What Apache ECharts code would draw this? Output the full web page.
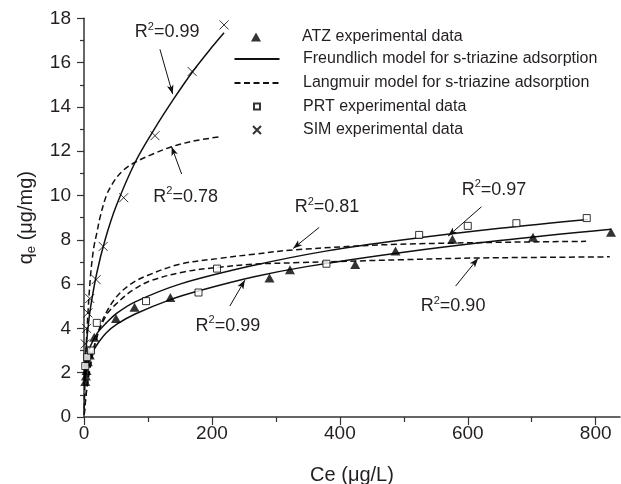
<!DOCTYPE html>
<html>
<head>
<meta charset="utf-8">
<script src="https://cdn.jsdelivr.net/npm/echarts@6/dist/echarts.min.js"></script>
<style>
  html, body { margin: 0; background: #fff; }
  #chart { width: 621px; height: 484px; }
</style>
</head>
<body>
<div id="chart"></div>
<script>
// Experimental points [Ce, qe]
const atzPoints = [[2, 1.6], [3, 1.85], [4, 2.1], [6, 2.5], [9, 2.8], [16, 3.6], [50, 4.45], [79, 4.95], [135, 5.4],
  [290, 6.27], [322, 6.65], [424, 6.88], [487, 7.5], [576, 8.03], [702, 8.12], [824, 8.34]];
const prtPoints = [[2, 2.3], [5, 2.7], [11, 3.0], [20, 4.25], [97, 5.23], [179, 5.62], [208, 6.7], [379, 6.92],
  [524, 8.22], [600, 8.63], [676, 8.75], [786, 8.98]];
const simPoints = [[2, 3.3], [4, 4.0], [6, 4.7], [9, 5.35], [19, 6.2], [30, 7.7], [62, 9.9], [111, 12.7],
  [169, 15.6], [219, 17.7]];

// Model curves
const atzFreundlich = [[1, 1.5], [3, 2.0], [6, 2.4], [10, 2.75], [20, 3.25], [35, 3.8], [52, 4.2], [80, 4.65],
  [135, 5.3], [180, 5.7], [266, 6.33], [350, 6.8], [494, 7.42], [650, 7.97], [824, 8.48]];
const prtFreundlich = [[1, 1.8], [3, 2.4], [6, 2.8], [10, 3.2], [21, 3.8], [35, 4.25], [52, 4.7], [80, 5.2],
  [150, 6.0], [266, 6.85], [380, 7.5], [494, 7.98], [650, 8.52], [788, 8.92]];
const simFreundlich = [[1, 1.9], [3, 3.0], [6, 3.95], [10, 4.9], [20, 6.5], [33, 8.0], [50, 9.5], [80, 11.5],
  [110, 13.0], [140, 14.35], [170, 15.6], [200, 16.7], [219, 17.35]];
const atzLangmuir = [[0.3, 0.1], [1, 0.35], [3, 1.0], [5, 1.45], [10, 2.4], [20, 3.6], [35, 4.6], [52, 5.15],
  [75, 5.7], [104, 6.15], [156, 6.55], [208, 6.75], [266, 6.9], [337, 6.97], [400, 7.02], [494, 7.1],
  [620, 7.18], [822, 7.23]];
const prtLangmuir = [[0.3, 0.1], [1, 0.3], [3, 0.9], [5, 1.4], [10, 2.3], [20, 3.6], [31, 4.5], [50, 5.4],
  [73, 6.0], [100, 6.4], [150, 6.9], [208, 7.15], [266, 7.35], [330, 7.55], [494, 7.8], [785, 7.93]];
const simLangmuir = [[0.3, 0.35], [1, 1.1], [3, 2.8], [5, 4.1], [10, 6.3], [15, 7.6], [20, 8.3], [25, 9.0],
  [35, 10.0], [46, 10.6], [60, 11.1], [80, 11.5], [110, 11.9], [137, 12.2], [170, 12.45], [212, 12.65]];

// Axis ticks
const xMajorTicks = [0, 200, 400, 600, 800];
const xMinorTicks = [100, 300, 500, 700];

// R² annotations
const r2Values = ['0.99', '0.78', '0.81', '0.99', '0.97', '0.90'];
const r2LabelAt = [[130, 17.38], [159, 9.95], [380, 9.46], [225, 4.11], [641, 10.25], [577, 5.01]];
const r2ArrowFrom = [[118.7, 16.6], [152.6, 10.97], [367.7, 8.56], [228, 5.01], [621.4, 9.49], [581, 5.91]];
const r2ArrowTo = [[138.6, 14.58], [137, 12.2], [327, 7.61], [251.6, 6.18], [569.3, 8.17], [616, 7.16]];

const legendNames = [
  'ATZ experimental data',
  'Freundlich model for s-triazine adsorption',
  'Langmuir model for s-triazine adsorption',
  'PRT experimental data',
  'SIM experimental data'
];

const font = '"Liberation Sans", Arial, sans-serif';
const ink = '#231f20';
const crossPath = 'path://M0,0L10,10M10,0L0,10';

// legend rows: vertical centre, icon box width / height, whether it is a line icon
const legendRowY = [37, 59, 83, 106.5, 130];
const legendIconW = [10, 45, 45, 6, 8];
const legendIconH = [9, 14, 14, 6, 8];
const legendIsLine = [false, true, true, false, false];
const legendIconCx = 256;
const legendTextX = 302;

const chart = echarts.init(document.getElementById('chart'));

const curve = (name, data, dashed) => ({
  name: name,
  type: 'line',
  data: data,
  showSymbol: false,
  symbol: 'none',
  smooth: 0.35,
  silent: true,
  z: 2,
  lineStyle: { color: '#111', width: 1.5, type: dashed ? [6, 3.5] : 'solid' },
  itemStyle: { color: '#111' }
});

const legends = legendNames.map((n, i) => {
  const left = legendIconCx - legendIconW[i] / 2;
  return {
    data: [n],
    orient: 'vertical',
    left: left,
    top: legendRowY[i] - 8,
    padding: 0,
    itemWidth: legendIconW[i],
    itemHeight: legendIconH[i],
    selectedMode: false,
    itemStyle: legendIsLine[i] ? { opacity: 0 } : {},
    textStyle: {
      fontFamily: font, fontSize: 16, color: ink, lineHeight: 16,
      padding: [0, 0, 0, legendTextX - left - legendIconW[i] - 5]
    }
  };
});

const option = {
  animation: false,
  backgroundColor: '#fff',
  textStyle: { fontFamily: font },
  grid: { left: 84, right: 1, top: 18.3, bottom: 67, containLabel: false, outerBoundsMode: 'none' },
  legend: legends,
  xAxis: [
    {
      type: 'value',
      position: 'bottom',
      min: 0,
      max: 838,
      name: 'Ce (μg/L)',
      nameLocation: 'middle',
      nameGap: 48,
      nameTextStyle: { fontFamily: font, fontSize: 20, color: ink },
      axisLine: { lineStyle: { color: '#333', width: 1.5 } },
      axisTick: { customValues: xMajorTicks, length: 8, lineStyle: { color: '#333', width: 1.2 } },
      axisLabel: { customValues: xMajorTicks, margin: 7, fontFamily: font, fontSize: 19, color: ink },
      splitLine: { show: false }
    },
    {
      type: 'value',
      position: 'bottom',
      min: 0,
      max: 838,
      axisLine: { show: false },
      axisTick: { customValues: xMinorTicks, length: 5, lineStyle: { color: '#333', width: 1.2 } },
      axisLabel: { show: false },
      splitLine: { show: false }
    }
  ],
  yAxis: {
    type: 'value',
    min: 0,
    max: 18,
    interval: 2,
    name: '{n|q}{s|e}{n| (μg/mg)}',
    nameLocation: 'middle',
    nameGap: 46,
    nameTextStyle: {
      color: ink,
      rich: {
        n: { fontFamily: font, fontSize: 20, lineHeight: 24, color: ink },
        s: { fontFamily: font, fontSize: 13, lineHeight: 14, verticalAlign: 'bottom', color: ink }
      }
    },
    axisLine: { show: true, lineStyle: { color: '#333', width: 1.5 } },
    axisTick: { show: true, length: 7, lineStyle: { color: '#333', width: 1.2 } },
    minorTick: { show: true, splitNumber: 2, length: 4, lineStyle: { color: '#333', width: 1.2 } },
    axisLabel: { margin: 13, fontFamily: font, fontSize: 19, color: ink },
    splitLine: { show: false }
  },
  series: [
    {
      name: legendNames[0],
      type: 'scatter',
      data: atzPoints,
      symbol: 'triangle',
      symbolSize: [10, 9],
      z: 4,
      itemStyle: { color: '#000' },
      markLine: {
        silent: true,
        animation: false,
        symbol: ['none', 'arrow'],
        label: { show: false },
        emphasis: { disabled: true },
        lineStyle: { color: '#111', width: 1, type: 'solid' },
        data: r2ArrowFrom.map((p, i) => [
          { coord: p, symbol: 'none' },
          { coord: r2ArrowTo[i], symbol: 'arrow', symbolSize: [5, 9] }
        ])
      },
      markPoint: {
        silent: true,
        animation: false,
        symbol: 'circle',
        symbolSize: 1,
        itemStyle: { color: 'transparent' },
        label: {
          show: true,
          position: 'inside',
          formatter: (p) => '{n|R}{s|2}{n|=' + p.name + '}',
          rich: {
            n: { fontFamily: font, fontSize: 18, lineHeight: 22, color: ink },
            s: { fontFamily: font, fontSize: 11, lineHeight: 13, verticalAlign: 'top', color: ink }
          }
        },
        data: r2LabelAt.map((p, i) => ({ name: r2Values[i], coord: p }))
      }
    },
    curve(legendNames[1], atzFreundlich, false),
    curve(legendNames[1], prtFreundlich, false),
    curve(legendNames[1], simFreundlich, false),
    curve(legendNames[2], atzLangmuir, true),
    curve(legendNames[2], prtLangmuir, true),
    curve(legendNames[2], simLangmuir, true),
    {
      name: legendNames[3],
      type: 'scatter',
      data: prtPoints,
      symbol: 'rect',
      symbolSize: 7,
      z: 4,
      itemStyle: { color: '#fff', borderColor: '#000', borderWidth: 1 }
    },
    {
      name: legendNames[4],
      type: 'scatter',
      data: simPoints,
      symbol: crossPath,
      symbolSize: 9,
      z: 4,
      itemStyle: { color: 'transparent', borderColor: '#000', borderWidth: 1 }
    }
  ]
};

chart.setOption(option);
</script>
</body>
</html>
